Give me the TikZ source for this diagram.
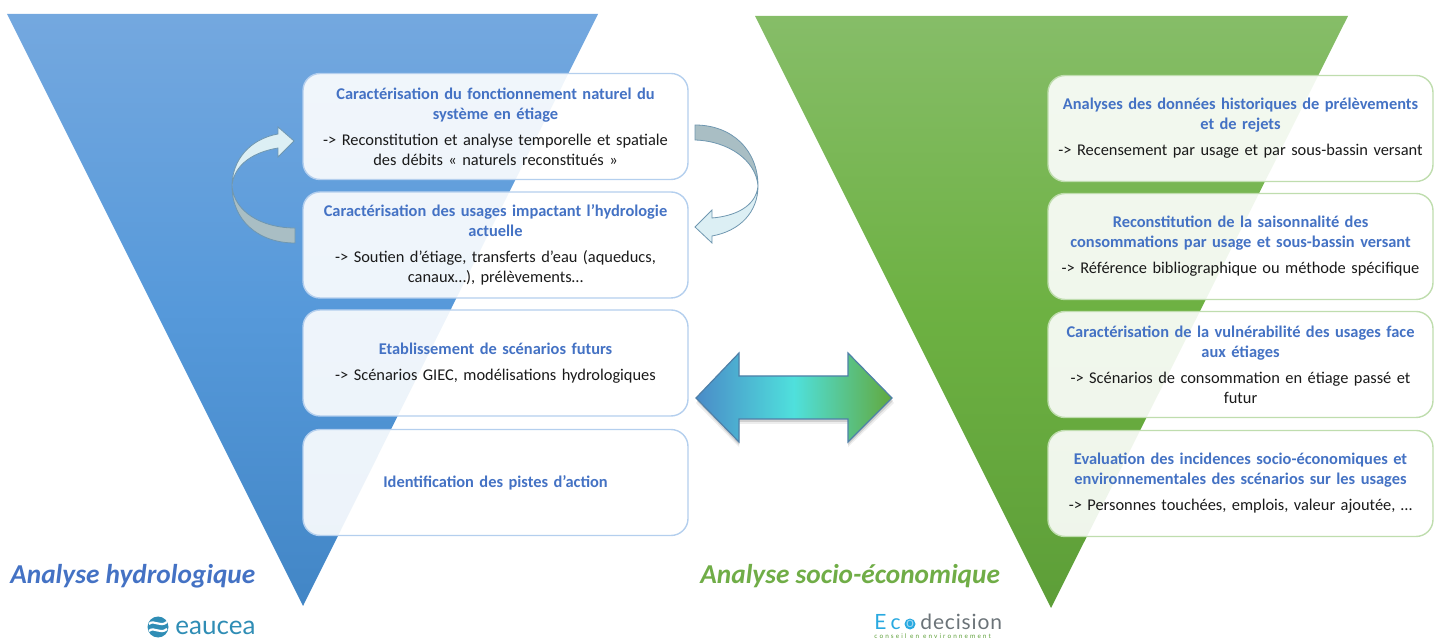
\documentclass[tikz,border=0pt]{standalone}
\usepackage{fontspec}
\setmainfont{Carlito}
\newfontfamily\logofont{Lato}
\usetikzlibrary{shapes.geometric}
\definecolor{titleblue}{HTML}{4472C4}
\definecolor{titlegreen}{HTML}{70AD47}
\definecolor{bodyink}{HTML}{1A1A1A}
\definecolor{bluetop}{HTML}{74A8DF}
\definecolor{bluemid}{HTML}{5699DA}
\definecolor{bluebot}{HTML}{4286C6}
\definecolor{greentop}{HTML}{86BD68}
\definecolor{greenmid}{HTML}{6DB142}
\definecolor{greenbot}{HTML}{5D9E38}
\definecolor{blueline}{HTML}{B4CFEE}
\definecolor{greenline}{HTML}{BFDDAE}
\definecolor{ribbonlight}{HTML}{DCEFF4}
\definecolor{ribbondark}{HTML}{A9BEC4}
\definecolor{ribbonedge}{HTML}{6F97B0}
\definecolor{logoblue}{HTML}{2F8DB5}
\definecolor{logogrey}{HTML}{6B7378}
\definecolor{logocyan}{HTML}{29A9E0}
\definecolor{arrowleft}{HTML}{4A8BC8}
\definecolor{arrowmid}{HTML}{4FE0DC}
\definecolor{arrowright}{HTML}{62A93E}
\definecolor{arrowedge}{HTML}{4F80A8}
\tikzset{
  x=0.5pt,y=-0.5pt,
  card/.style={rounded corners=8.5pt,fill=white,fill opacity=.9,text opacity=1,line width=.7pt,
    minimum width=192.5pt,minimum height=53pt,align=center,inner sep=0pt,text width=186pt,
    font=\fontsize{8.2}{10}\selectfont,text=bodyink},
  bluecard/.style={card,draw=blueline},
  greencard/.style={card,draw=greenline},
  ribbonpart/.style={draw=ribbonedge,line width=.4pt},
  pagetitle/.style={anchor=base west,inner sep=0pt,font=\fontsize{13.65}{15}\selectfont\bfseries\itshape},
}
\newcommand{\cardhead}[1]{\textcolor{titleblue}{\bfseries #1}}
\begin{document}
\begin{tikzpicture}
\useasboundingbox (0,0) rectangle (1440,640);
% triangles
\path[top color=bluetop,bottom color=bluebot,middle color=bluemid] (7,14) -- (598,14) -- (303,606) -- cycle;
\path[top color=greentop,bottom color=greenbot,middle color=greenmid] (755,16) -- (1348,16) -- (1051,608) -- cycle;
% left cards
\node[bluecard] (h1) at (495.5,126.5) {\cardhead{Caractérisation du fonctionnement naturel du\\système en étiage}\\[3pt]-> Reconstitution et analyse temporelle et spatiale\\des débits « naturels reconstitués »};
\node[bluecard] (h2) at (495.5,245) {\cardhead{Caractérisation des usages impactant l’hydrologie\\actuelle}\\[3pt]-> Soutien d’étiage, transferts d’eau (aqueducs,\\canaux…), prélèvements…};
\node[bluecard] (h3) at (495.5,363) {\cardhead{Etablissement de scénarios futurs}\\[3pt]-> Scénarios GIEC, modélisations hydrologiques};
\node[bluecard] (h4) at (495.5,482.5) {\cardhead{Identification des pistes d’action}};
% right cards
\node[greencard] (s1) at (1240.5,128.5) {\cardhead{Analyses des données historiques de prélèvements\\et de rejets}\\[3pt]-> Recensement par usage et par sous-bassin versant};
\node[greencard] (s2) at (1240.5,246.5) {\cardhead{Reconstitution de la saisonnalité des\\consommations par usage et sous-bassin versant}\\[3pt]-> Référence bibliographique ou méthode spécifique};
\node[greencard] (s3) at (1240.5,364.5) {\cardhead{Caractérisation de la vulnérabilité des usages face\\aux étiages}\\[3pt]-> Scénarios de consommation en étiage passé et\\futur};
\node[greencard] (s4) at (1240.5,483.5) {\cardhead{Evaluation des incidences socio-économiques et\\environnementales des scénarios sur les usages}\\[3pt]-> Personnes touchées, emplois, valeur ajoutée, …};
% left ribbon arrow
\draw[ribbonpart,fill=ribbondark] (232,186) .. controls (234,212) and (262,228) .. (295,228) -- (295,243) .. controls (258,243) and (232,220) .. (232,186) -- cycle;
\draw[ribbonpart,fill=ribbonlight] (232,186) .. controls (232,160) and (250,139) .. (278,134) -- (278,127) -- (294,141) -- (278,157) -- (278,148) .. controls (254,152) and (234,164) .. (232,186) -- cycle;
% right ribbon arrow
\draw[ribbonpart,fill=ribbondark] (758,186) .. controls (756,160) and (728,141) .. (695,140) -- (695,125) .. controls (732,125) and (758,150) .. (758,186) -- cycle;
\draw[ribbonpart,fill=ribbonlight] (758,186) .. controls (758,212) and (740,231) .. (712,236) -- (712,243) -- (695,227) -- (712,210) -- (712,218) .. controls (736,216) and (756,206) .. (758,186) -- cycle;
% double arrow
\fill[black,opacity=.07] (696,403) -- (739,358) -- (739,381) -- (848,381) -- (848,358) -- (894,403) -- (848,447) -- (848,424) -- (739,424) -- (739,447) -- cycle;
\fill[black,opacity=.12] (697,401) -- (739,356) -- (739,379) -- (848,379) -- (848,356) -- (893,401) -- (848,445) -- (848,422) -- (739,422) -- (739,445) -- cycle;
\draw[draw=arrowedge,line width=.6pt,left color=arrowleft,right color=arrowright,middle color=arrowmid]
  (696,398) -- (739,353) -- (739,376) -- (848,376) -- (848,353) -- (892,398) -- (848,442) -- (848,419) -- (739,419) -- (739,442) -- cycle;
% titles
\node[pagetitle,text=titleblue] (th) at (10,583) {Analyse hydrologique};
\node[pagetitle,text=titlegreen] (ts) at (700,583) {Analyse socio-économique};
% eaucea logo
\fill[logoblue] (158,627) circle (10.5);
\draw[white,line width=1.1pt] (149,624) .. controls (154,619) and (160,628) .. (167,622);
\draw[white,line width=1.1pt] (149,631) .. controls (154,626) and (160,635) .. (167,629);
\node[anchor=base west,inner sep=0pt,text=logoblue,font=\logofont\fontsize{13}{14}\selectfont] (le) at (175,634) {eaucea};
% ecodecision logo
\node[anchor=base west,inner sep=0pt,text=logocyan,font=\logofont\fontsize{10.5}{12}\selectfont\addfontfeature{LetterSpace=22}] (lc) at (874,630) {Ec};
\node[circle,fill=logocyan,inner sep=0pt,minimum size=5.5pt,text=logocyan!45!white,font=\logofont\fontsize{7}{8}\selectfont] (lo) at (910,624) {o};
\node[anchor=base west,inner sep=0pt,text=logogrey,font=\logofont\fontsize{10.5}{12}\selectfont\addfontfeature{LetterSpace=4}] (ld) at (920,630) {decision};
\node[anchor=base west,inner sep=0pt,text=greenbot,font=\logofont\fontsize{3.2}{4}\selectfont\addfontfeature{LetterSpace=33}] (ls) at (874,639) {conseil en environnement};
\end{tikzpicture}
\end{document}
